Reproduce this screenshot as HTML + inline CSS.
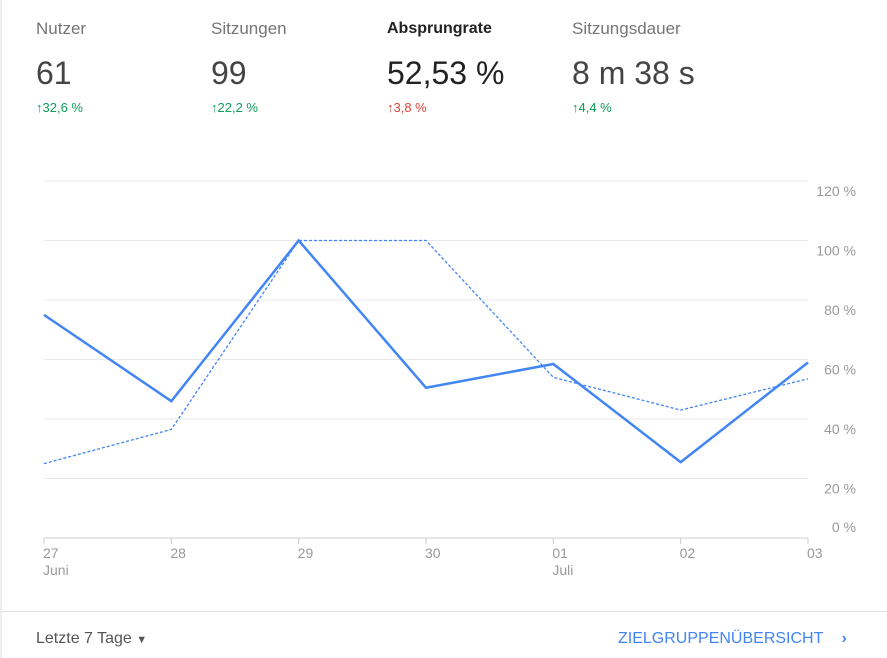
<!DOCTYPE html>
<html><head><meta charset="utf-8"><style>
body{margin:0;width:887px;height:658px;background:#fff;font-family:"Liberation Sans",sans-serif;overflow:hidden;position:relative}
.m{position:absolute;top:18px}
.t{font-size:17px;color:#757575;line-height:22px;height:22px}
.v{font-size:32px;color:#444;margin-top:14px;line-height:38px}
.d{font-size:13px;margin-top:8px}
.g{color:#0f9d58}.r{color:#db4437}
</style></head><body>
<div style="position:absolute;left:0;top:0;width:2px;height:658px;background:#eee"></div>
<div class="m" style="left:36px"><div class="t">Nutzer</div><div class="v">61</div><div class="d g"><b>↑</b>32,6 %</div></div>
<div class="m" style="left:211px"><div class="t">Sitzungen</div><div class="v">99</div><div class="d g"><b>↑</b>22,2 %</div></div>
<div class="m" style="left:387px"><div class="t" style="color:#222;font-weight:bold;font-size:16px">Absprungrate</div><div class="v" style="color:#222">52,53 %</div><div class="d r"><b>↑</b>3,8 %</div></div>
<div class="m" style="left:572px"><div class="t">Sitzungsdauer</div><div class="v">8 m 38 s</div><div class="d g"><b>↑</b>4,4 %</div></div>
<svg id="c" width="887" height="600" style="position:absolute;left:0;top:0"></svg>
<div style="position:absolute;left:2px;right:0;top:611px;height:1px;background:#e0e0e0"></div>
<div style="position:absolute;left:36px;top:630px;font-size:16px;color:#555">Letzte 7 Tage <span style="font-size:11px">▼</span></div>
<div style="position:absolute;left:618px;top:630px;font-size:16px;color:#4285f4">ZIELGRUPPENÜBERSICHT <span style="margin-left:14px;font-weight:bold">›</span></div>
<script>
const categories=["27","28","29","30","01","02","03"];
const subLabels=["Juni","","","","Juli","",""];
const current=[75,46,100,50.5,58.5,25.5,59];
const previous=[25,36.5,100,100,54,43,53.5];
const yTicks=[0,20,40,60,80,100,120];
const svg=document.getElementById('c');const NS='http://www.w3.org/2000/svg';
const x0=44,x1=808,yb=538,yt=181;
const X=i=>x0+i*(x1-x0)/(categories.length-1);
const Y=v=>yb-v*(yb-yt)/120;
function el(t,a){const e=document.createElementNS(NS,t);for(const k in a)e.setAttribute(k,a[k]);svg.appendChild(e);return e;}
yTicks.forEach(v=>{
 const l=el('line',{x1:x0,x2:x1,y1:Y(v),y2:Y(v),stroke:v==0?'#ccc':'#e8e8e8'});
 
 
 const t=el('text',{x:856,y:v==0?Y(v)-6:Y(v)+15,'text-anchor':'end','font-size':14,fill:'#999'});
 t.textContent=v+' %';
 
 
});
categories.forEach((c,i)=>{
 const tk=el('line',{x1:X(i),x2:X(i),y1:yb,y2:yb+6,stroke:'#ccc'});
 
 
 const t=el('text',{x:X(i)-1,y:558,'font-size':14,fill:'#999'});t.textContent=c;
 
 
 if(subLabels[i]){const s=el('text',{x:X(i)-1,y:575,'font-size':14,fill:'#999'});s.textContent=subLabels[i];
 
 }
});
const pp=el('polyline',{points:previous.map((v,i)=>X(i)+','+Y(v)).join(' '),fill:'none',stroke:'#4285f4','stroke-width':1.3,'stroke-dasharray':'3,2'});


const cp=el('polyline',{points:current.map((v,i)=>X(i)+','+Y(v)).join(' '),fill:'none',stroke:'#4285f4','stroke-width':2.5});


</script>
</body></html>
